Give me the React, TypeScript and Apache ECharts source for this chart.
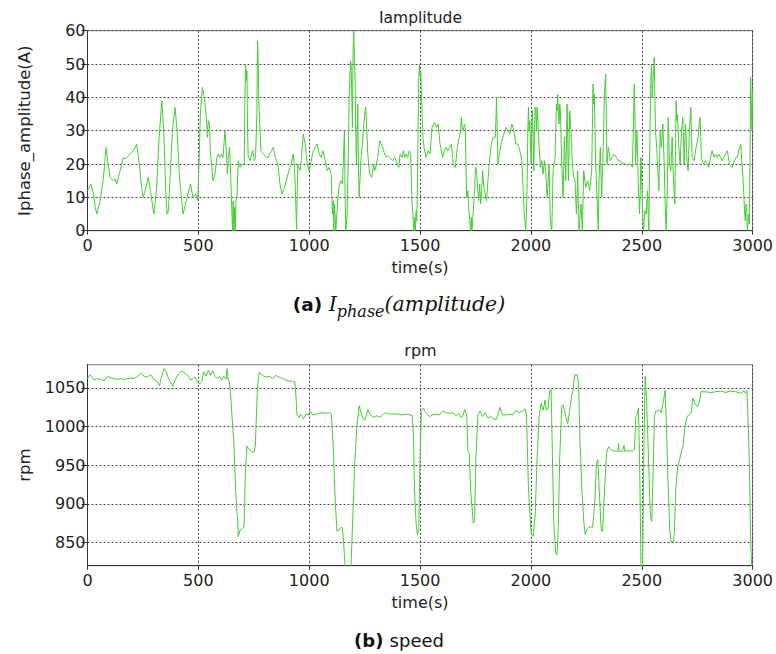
import React, { useEffect, useRef } from "react";
import * as echarts from "echarts";

const FONT = "'DejaVu Sans', sans-serif";
const LINE_COLOR = "#45cc33";

const xTicks = [0, 500, 1000, 1500, 2000, 2500, 3000];
const rpmTicks = [850, 900, 950, 1000, 1050];

// [time (s), phase current amplitude (A)]
const ampPoints: number[][] = [
  [0,12],[8,13],[15,14],[27,11],[35,7],[42,5],[57,9],[72,16],[84,25],[93,20],[102,16],[110,15.5],[117,15],[125,15.5],[132,14],
  [147,18],[162,22],[170,21.5],[177,22],[192,23],[207,24],[222,26],[234,20],[244,13],[251,10],[260,12],[274,16],[284,12],[299,5],
  [311,12],[323,28],[335,39],[344,30],[353,12],[359,5],[365,6],[371,14],[383,30],[395,37],[404,30],[416,15],[431,5],[446,9],[464,14],
  [476,10],[488,11],[497,9],[503,20],[509,35],[518,43],[527,40],[536,34],[541,28],[545,33],[550,32],[554,24],[566,15],[575,17],[584,22],
  [590,23],[596,22],[604,23],[611,22],[620,30],[626,24],[631,17],[635,22],[641,25],[646,16],[650,8],[654,0],[657,9],[660,0],[663,7],
  [666,0],[670,9],[674,10],[680,21],[689,19],[701,20],[707,20],[710,40],[713,50],[716,45],[719,48],[722,30],[725,22],[734,21],[740,23],
  [746,24],[752,21],[758,22],[764,35],[767,57],[770,50],[773,38],[782,24],[794,23],[806,22],[815,22],[821,23],[830,24],[838,25],[847,22],
  [859,20],[868,14],[877,11],[889,13],[904,17],[919,20],[928,23],[934,19],[940,7],[943,0],[946,12],[949,20],[958,18],[964,21],[973,29],
  [982,26],[991,20],[1000,18],[1009,21],[1018,24],[1027,25],[1036,26],[1045,23],[1054,22],[1063,24],[1072,21],[1081,18],[1090,19],
  [1099,17],[1105,5],[1108,9],[1111,0],[1114,8],[1117,8],[1120,0],[1123,3],[1132,12],[1141,15],[1150,14],[1156,25],[1159,30],[1162,10],
  [1165,0],[1171,5],[1177,25],[1180,40],[1183,45],[1186,51],[1189,50],[1192,40],[1195,31],[1198,55],[1201,60],[1204,52],[1207,45],
  [1210,30],[1213,20],[1216,30],[1219,38],[1222,20],[1225,10],[1234,22],[1240,26],[1246,32],[1252,36],[1255,37],[1260,30],[1264,23],
  [1273,17],[1282,16],[1291,20],[1296,18],[1300,19],[1309,22],[1318,27],[1325,26],[1332,25],[1340,23],[1347,22],[1355,22.5],[1362,22],
  [1370,21.5],[1377,21],[1385,22],[1392,21],[1398,20],[1404,19],[1410,23],[1413,23],[1419,22],[1425,24],[1431,22],[1437,23],[1444,22],
  [1452,24],[1458,23],[1461,15],[1464,8],[1467,5],[1470,2],[1473,0],[1476,4],[1479,0],[1482,6],[1485,3],[1488,12],[1491,30],[1494,45],
  [1497,50],[1500,46],[1503,48],[1506,42],[1509,35],[1513,28],[1518,25],[1527,22],[1536,24],[1545,23],[1554,31],[1560,32],[1566,32.5],
  [1574,31],[1581,32],[1590,26],[1596,24],[1602,22],[1610,24],[1617,25],[1625,24],[1632,25],[1641,26],[1650,20],[1659,19],[1668,25],
  [1677,28],[1683,30],[1686,34],[1690,31],[1695,30],[1700,32],[1704,31],[1707,20],[1710,10],[1716,12],[1719,7],[1724,3],[1728,0],
  [1731,4],[1734,0],[1737,3],[1742,8],[1746,12],[1750,19],[1755,18],[1759,13],[1764,9],[1769,14],[1773,8],[1778,12],[1782,18],[1787,14],
  [1791,12],[1796,10],[1800,9],[1806,15],[1812,20],[1821,26],[1830,28],[1839,28],[1842,33],[1845,40],[1848,30],[1851,20],[1860,24],
  [1869,27],[1878,29],[1887,31],[1896,30],[1905,29],[1914,32],[1923,30],[1932,26],[1941,26],[1950,24],[1959,21],[1965,12],[1971,4],
  [1977,0],[1980,6],[1983,15],[1986,30],[1989,37],[1992,30],[1995,33],[1998,26],[2001,20],[2004,30],[2007,36],[2010,28],[2013,18],
  [2016,30],[2019,37],[2022,36],[2025,30],[2028,37],[2031,33],[2037,25],[2043,19],[2049,21],[2055,17],[2061,21],[2067,18],[2073,10],
  [2078,15],[2082,20],[2085,10],[2088,2],[2094,0],[2100,18],[2109,22],[2115,38],[2118,36],[2121,41],[2124,35],[2127,32],[2130,38],
  [2133,36],[2139,20],[2145,10],[2151,28],[2157,15],[2160,25],[2163,38],[2166,28],[2169,15],[2172,25],[2175,36],[2181,30],[2187,20],
  [2193,16],[2199,15],[2205,5],[2208,10],[2211,18],[2214,8],[2217,0],[2222,5],[2226,8],[2232,0],[2238,18],[2247,13],[2256,15],[2265,12],
  [2274,18],[2277,30],[2280,44],[2283,38],[2286,41],[2289,30],[2292,20],[2297,12],[2301,5],[2304,0],[2307,15],[2313,25],[2319,10],
  [2325,22],[2331,40],[2334,44],[2337,47],[2340,35],[2343,20],[2349,25],[2358,21],[2367,22],[2376,23],[2385,22],[2394,21],[2403,21],
  [2412,20],[2420,20.5],[2427,20],[2435,19.5],[2442,20],[2450,20],[2457,19],[2462,30],[2466,44],[2469,35],[2472,20],[2478,30],[2484,15],
  [2490,5],[2493,12],[2496,22],[2502,10],[2505,3],[2508,0],[2511,0],[2514,6],[2520,5],[2526,12],[2529,4],[2532,0],[2535,20],[2538,35],
  [2541,45],[2544,50],[2547,40],[2550,44],[2553,48],[2556,52],[2559,40],[2562,30],[2567,25],[2571,20],[2577,12],[2583,30],[2589,25],
  [2595,32],[2601,20],[2604,12],[2607,5],[2610,0],[2613,0],[2616,15],[2619,34],[2622,28],[2625,20],[2631,18],[2637,28],[2643,15],
  [2649,8],[2652,25],[2655,39],[2658,33],[2661,35],[2667,25],[2673,20],[2679,30],[2685,34],[2688,28],[2691,20],[2697,32],[2700,28],
  [2703,22],[2709,18],[2715,30],[2721,37],[2724,30],[2727,22],[2736,21],[2745,25],[2754,28],[2760,33],[2763,34],[2766,28],[2769,22],
  [2778,20],[2787,21],[2795,20],[2802,19],[2810,22],[2817,24],[2825,22],[2832,23],[2840,22],[2847,23],[2855,22],[2862,21],[2870,22],
  [2877,23],[2886,24],[2895,20],[2907,19],[2913,20],[2919,21],[2925,22],[2931,22],[2940,25],[2946,26],[2952,20],[2957,15],[2961,10],
  [2964,5],[2967,3],[2970,8],[2973,7],[2976,0],[2979,0],[2982,5],[2985,2],[2988,20],[2991,46],[2994,38],[2997,30],[3000,42]
];

// [time (s), speed (rpm)]
const rpmPoints: number[][] = [
  [0,1062],[10,1067],[20,1064],[30,1060],[45,1062],[60,1061],[75,1059],[90,1065],[105,1063],[120,1062],[135,1061],[150,1062],
  [165,1061],[180,1062],[195,1062.5],[210,1062],[225,1065],[240,1069],[255,1065],[270,1064],[285,1067],[300,1061],[315,1058],
  [325,1053],[330,1060],[335,1065],[345,1075],[355,1071],[365,1062],[375,1057],[385,1052],[395,1060],[410,1068],[425,1072],[440,1069],
  [455,1065],[465,1060],[475,1062],[485,1064],[495,1058],[505,1055],[515,1058],[525,1071],[535,1065],[545,1073],[555,1066],[565,1072],
  [575,1065],[585,1062],[595,1065],[605,1060],[615,1065],[625,1061],[630,1075],[635,1060],[640,1058],[645,1045],[650,1020],[660,980],
  [668,920],[675,885],[678,875],[680,858],[684,862],[688,866],[698,868],[706,870],[712,940],[716,960],[720,975],[725,972],[730,970],
  [740,968],[750,966],[757,975],[765,1040],[770,1060],[775,1070],[790,1066],[805,1064],[820,1065],[835,1062],[850,1066],[865,1064],
  [880,1062],[895,1060],[910,1059],[925,1058],[935,1058],[940,1040],[945,1015],[955,1012],[960,1016],[965,1015],[975,1010],[985,1016],
  [995,1015],[1005,1020],[1015,1015],[1030,1016],[1045,1017],[1060,1018],[1075,1017],[1090,1018],[1100,1016],[1105,990],[1110,960],
  [1118,900],[1125,865],[1135,866],[1145,870],[1150,868],[1155,850],[1162,820],[1172,805],[1185,810],[1190,830],[1195,870],[1205,950],
  [1215,1000],[1225,1027],[1232,1020],[1240,1012],[1250,1008],[1258,1015],[1265,1022],[1275,1015],[1290,1012],[1305,1014],[1320,1012],
  [1335,1016],[1347,1018],[1360,1016],[1377,1016.5],[1392,1016],[1407,1016],[1418,1015],[1429,1016],[1440,1016],[1452,1015],[1464,1015],
  [1470,990],[1475,918],[1482,875],[1488,860],[1494,866],[1500,961],[1506,1021],[1515,1024],[1527,1018],[1542,1013],[1557,1015],
  [1572,1016],[1587,1015],[1602,1020],[1617,1018],[1632,1017],[1647,1018],[1662,1014],[1674,1017],[1683,1012],[1692,1013],[1701,1022],
  [1710,1016],[1716,968],[1722,965],[1728,918],[1740,875],[1746,878],[1752,961],[1761,1015],[1770,1020],[1782,1013],[1794,1018],
  [1806,1011],[1818,1013],[1830,1010],[1842,1009],[1851,1015],[1860,1025],[1872,1015],[1887,1015],[1902,1016],[1917,1015],[1932,1021],
  [1947,1018],[1962,1020],[1974,1023],[1980,1015],[1989,918],[2001,862],[2010,858],[2019,884],[2028,961],[2037,1013],[2046,1030],
  [2055,1021],[2064,1034],[2070,1021],[2078,1025],[2085,1047],[2091,1048],[2097,961],[2103,875],[2112,836],[2118,834],[2124,875],
  [2130,961],[2139,1026],[2145,1028],[2151,1021],[2157,1013],[2166,1004],[2175,1021],[2184,1040],[2190,1047],[2197,1067],[2209,1067],
  [2215,1055],[2221,983],[2230,918],[2239,875],[2245,860],[2254,868],[2266,870],[2278,870],[2287,897],[2296,953],[2302,957],[2308,918],
  [2317,866],[2323,864],[2332,918],[2341,965],[2350,974],[2362,970],[2377,968],[2392,968],[2395,978],[2398,968],[2413,968],[2420,976],
  [2423,968],[2428,968],[2443,969],[2458,968],[2467,970],[2473,1013],[2479,1016],[2485,1024],[2491,940],[2497,800],[2503,800],
  [2509,960],[2515,1065],[2521,1039],[2530,961],[2539,884],[2545,877],[2551,940],[2557,1013],[2563,1020],[2572,1020],[2581,1022],
  [2587,1018],[2596,1030],[2605,1047],[2611,1004],[2617,940],[2626,866],[2632,851],[2641,851],[2647,862],[2653,918],[2662,948],
  [2671,957],[2680,970],[2686,974],[2695,1000],[2704,1013],[2713,1015],[2722,1017],[2731,1037],[2740,1029],[2752,1026],[2761,1033],
  [2767,1045],[2787,1045],[2810,1044],[2833,1045],[2856,1046],[2878,1044],[2901,1046],[2923,1045],[2946,1043],[2961,1046],[2968,1043],
  [2974,1047],[2980,1004],[2986,940],[2991,853],[2997,810],[3000,800]
];

const TXT = "#222";
const FS = 16;
const plain = (v: number) => String(v);

function xAxisCfg(gridIndex: number) {
  return {
    type: "value",
    gridIndex,
    min: 0,
    max: 3000,
    interval: 500,
    name: "time(s)",
    nameLocation: "middle",
    nameGap: 29,
    nameTextStyle: { fontFamily: FONT, fontSize: FS, color: TXT },
    axisLine: { show: true, lineStyle: { color: "#333", width: 1 } },
    axisTick: { show: true, length: 4, lineStyle: { color: "#333" } },
    axisLabel: {
      fontFamily: FONT,
      fontSize: FS,
      color: TXT,
      margin: 7,
      customValues: xTicks,
      formatter: plain,
    },
    splitLine: { show: true, lineStyle: { color: "#444", type: [2, 2], width: 1 } },
  };
}

export default function App() {
  const ref = useRef<HTMLDivElement>(null);
  useEffect(() => {
    if (!ref.current) return;
    const chart = echarts.init(ref.current, null, { renderer: "svg", width: 776, height: 654 });
    const option: any = {
      animation: false,
      backgroundColor: "#fff",
      textStyle: { fontFamily: FONT },
      grid: [
        { left: 87.5, top: 30.7, width: 666, height: 200, show: true, borderColor: "#777", borderWidth: 1 },
        { left: 87.5, top: 364.7, width: 666, height: 201, show: true, borderColor: "#777", borderWidth: 1 },
      ],
      xAxis: [xAxisCfg(0), xAxisCfg(1)],
      yAxis: [
        {
          type: "value",
          gridIndex: 0,
          min: 0,
          max: 60,
          interval: 10,
          name: "Iphase_amplitude(A)",
          nameLocation: "middle",
          nameRotate: 90,
          nameGap: 55,
          nameTextStyle: { fontFamily: FONT, fontSize: FS + 0.5, color: TXT },
          axisLine: { show: true, lineStyle: { color: "#333" } },
          axisTick: { show: true, length: 6, lineStyle: { color: "#333" } },
          axisLabel: { fontFamily: FONT, fontSize: FS, color: TXT, margin: 2, formatter: plain },
          splitLine: { show: true, lineStyle: { color: "#444", type: [2, 2] } },
        },
        {
          type: "value",
          gridIndex: 1,
          min: 820,
          max: 1080,
          name: "rpm",
          nameLocation: "middle",
          nameRotate: 90,
          nameGap: 55,
          nameTextStyle: { fontFamily: FONT, fontSize: FS + 0.5, color: TXT },
          axisLine: { show: true, lineStyle: { color: "#333" } },
          axisTick: { show: true, length: 6, lineStyle: { color: "#333" }, customValues: rpmTicks },
          axisLabel: { fontFamily: FONT, fontSize: FS, color: TXT, margin: 2, customValues: rpmTicks, formatter: plain },
          splitLine: { show: true, lineStyle: { color: "#444", type: [2, 2] } },
        },
      ],
      series: [
        {
          type: "line",
          xAxisIndex: 0,
          yAxisIndex: 0,
          data: ampPoints,
          showSymbol: false,
          symbol: "none",
          clip: true,
          lineStyle: { color: LINE_COLOR, width: 1 },
        },
        {
          type: "line",
          xAxisIndex: 1,
          yAxisIndex: 1,
          data: rpmPoints,
          showSymbol: false,
          symbol: "none",
          clip: true,
          lineStyle: { color: LINE_COLOR, width: 1 },
        },
      ],
      graphic: [
        {
          type: "text",
          x: 420.5,
          y: 17.5,
          style: {
            text: "Iamplitude",
            fontFamily: FONT,
            fontSize: 15.5,
            fill: TXT,
            align: "center",
            verticalAlign: "middle",
            textAlign: "center",
            textVerticalAlign: "middle",
          },
        },
        {
          type: "text",
          x: 420.5,
          y: 350,
          style: {
            text: "rpm",
            fontFamily: FONT,
            fontSize: 16,
            fill: TXT,
            align: "center",
            verticalAlign: "middle",
            textAlign: "center",
            textVerticalAlign: "middle",
          },
        },
        {
          type: "text",
          x: 399,
          y: 304,
          style: {
            text: "{b|(a) }{i|I}{s|phase}{i|(amplitude)}",
            fill: "#111",
            align: "center",
            verticalAlign: "middle",
            textAlign: "center",
            textVerticalAlign: "middle",
            rich: {
              b: { fontFamily: "'DejaVu Sans', sans-serif", fontWeight: "bold", fontSize: 18.5, lineHeight: 31, verticalAlign: "middle", fill: "#111" },
              i: { fontFamily: "'DejaVu Serif', serif", fontStyle: "italic", fontSize: 20.5, lineHeight: 31, verticalAlign: "middle", fill: "#111" },
              s: { fontFamily: "'DejaVu Serif', serif", fontStyle: "italic", fontSize: 16, lineHeight: 31, verticalAlign: "bottom", fill: "#111" },
            },
          },
        },
        {
          type: "text",
          x: 399,
          y: 640,
          style: {
            text: "{b|(b) }{n|speed}",
            fill: "#111",
            align: "center",
            verticalAlign: "middle",
            textAlign: "center",
            textVerticalAlign: "middle",
            rich: {
              b: { fontFamily: "'DejaVu Sans', sans-serif", fontWeight: "bold", fontSize: 18, verticalAlign: "middle", fill: "#111" },
              n: { fontFamily: "'DejaVu Sans', sans-serif", fontSize: 18, verticalAlign: "middle", fill: "#111" },
            },
          },
        },
      ],
    };
    chart.setOption(option);
    return () => chart.dispose();
  }, []);
  return (
    <div
      ref={ref}
      style={{ position: "absolute", left: 0, top: 0, width: 776, height: 654, background: "#fff" }}
    />
  );
}
